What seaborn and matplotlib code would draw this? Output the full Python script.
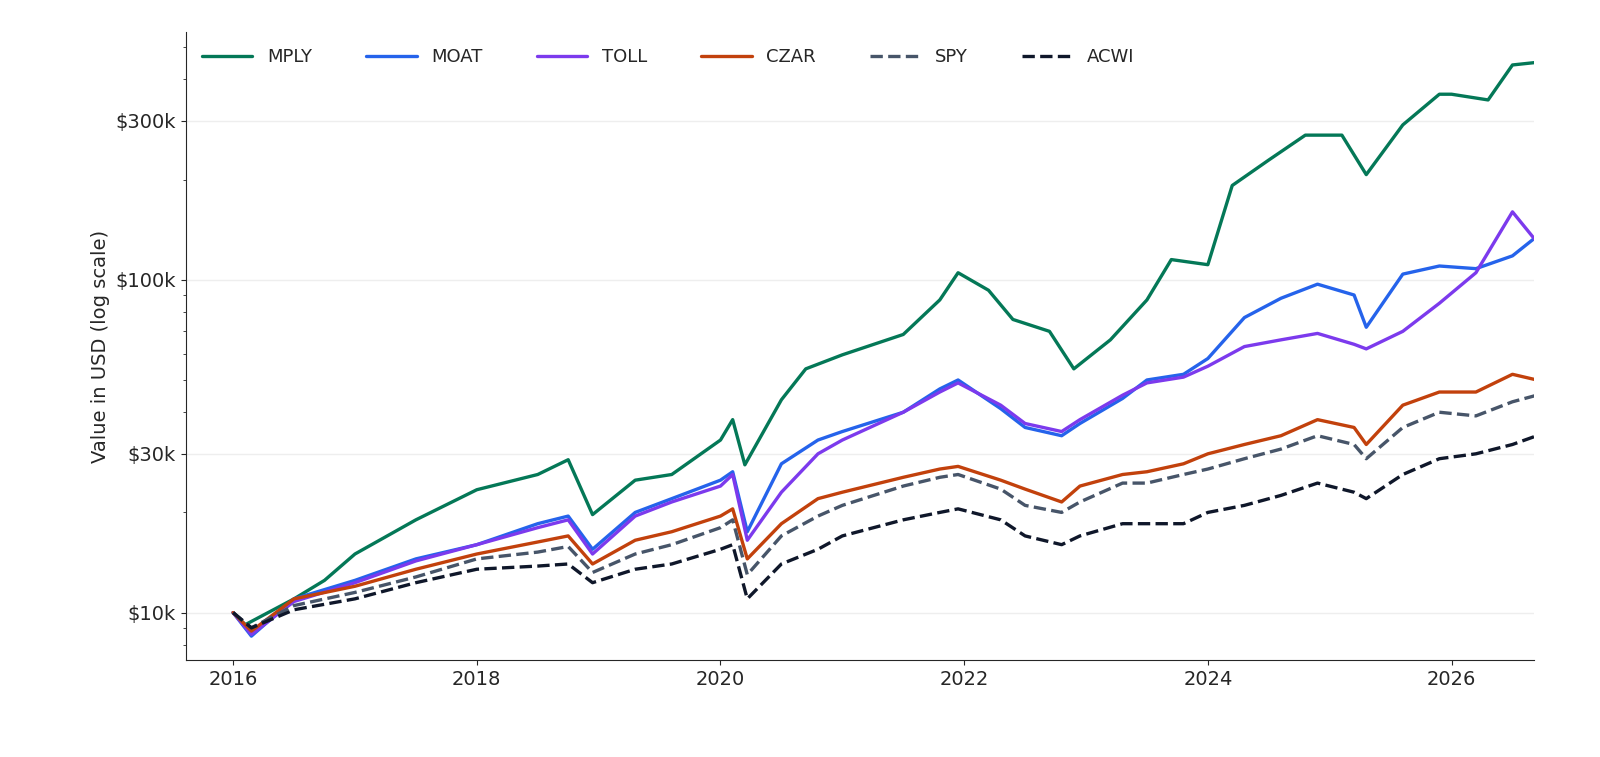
import numpy as np
import pandas as pd
import seaborn as sns
import matplotlib.pyplot as plt
from matplotlib.ticker import FixedLocator, FixedFormatter, NullFormatter, LogLocator

# values in thousands of USD
mply_t = [2016.0, 2016.1, 2016.5, 2016.75, 2017.0, 2017.5, 2018.0, 2018.5, 2018.75, 2018.95, 2019.3, 2019.6,
          2020.0, 2020.1, 2020.2, 2020.5, 2020.7, 2021.0, 2021.5, 2021.8, 2021.95, 2022.2, 2022.4, 2022.7,
          2022.9, 2023.2, 2023.5, 2023.7, 2024.0, 2024.2, 2024.5, 2024.8, 2025.1, 2025.3, 2025.6, 2025.9,
          2026.0, 2026.3, 2026.5, 2026.7]
mply_v = [10, 9.2, 11, 12.5, 15, 19, 23.4, 26, 28.8, 19.7, 25, 26,
          33, 38, 27.8, 43.6, 54, 59.5, 68.5, 87, 105, 93, 76, 70,
          54, 66, 87, 115, 111, 192, 229, 272, 272, 207, 292, 361,
          361, 347, 442, 450]

bench_t = [2016.0, 2016.15, 2016.5, 2017.0, 2017.5, 2018.0, 2018.5, 2018.75, 2018.95, 2019.3, 2019.6,
           2020.0, 2020.1, 2020.22, 2020.5, 2020.8, 2021.0, 2021.5, 2021.8, 2021.95, 2022.3, 2022.5, 2022.8,
           2022.95, 2023.3, 2023.5, 2023.8, 2024.0, 2024.3, 2024.6, 2024.9, 2025.2, 2025.3, 2025.6, 2025.9,
           2026.2, 2026.5, 2026.7]
moat_v = [10, 8.5, 11, 12.5, 14.5, 16, 18.5, 19.5, 15.5, 20, 22,
          25, 26.5, 17.5, 28, 33, 35, 40, 47, 50, 41, 36, 34,
          37, 44, 50, 52, 58, 77, 88, 97, 90, 72, 104, 110,
          108, 118, 135]
toll_v = [10, 8.6, 10.8, 12.3, 14.3, 16, 18, 19, 15, 19.5, 21.5,
          24, 26, 16.5, 23, 30, 33, 40, 46, 49, 42, 37, 35,
          38, 45, 49, 51, 55, 63, 66, 69, 64, 62, 70, 85,
          105, 160, 130]
czar_v = [10, 8.8, 11, 12, 13.5, 15, 16.3, 17, 14, 16.5, 17.5,
          19.5, 20.5, 14.5, 18.5, 22, 23, 25.5, 27, 27.5, 25, 23.5, 21.5,
          24, 26, 26.5, 28, 30, 32, 34, 38, 36, 32, 42, 46,
          46, 52, 50]
spy_v = [10, 9, 10.5, 11.5, 12.8, 14.5, 15.2, 15.8, 13.2, 15, 16,
         18, 19, 13, 17, 19.5, 21, 24, 25.5, 26, 23.5, 21, 20,
         21.5, 24.5, 24.5, 26, 27, 29, 31, 34, 32, 29, 36, 40,
         39, 43, 45]
acwi_v = [10, 9, 10.2, 11, 12.3, 13.5, 13.8, 14, 12.3, 13.5, 14,
          15.5, 16, 11, 14, 15.5, 17, 19, 20, 20.5, 19, 17, 16,
          17, 18.5, 18.5, 18.5, 20, 21, 22.5, 24.5, 23, 22, 26, 29,
          30, 32, 34]

series = [
    ("MPLY", mply_t, mply_v, "#047857", "-"),
    ("MOAT", bench_t, moat_v, "#2563eb", "-"),
    ("TOLL", bench_t, toll_v, "#7c3aed", "-"),
    ("CZAR", bench_t, czar_v, "#c2410c", "-"),
    ("SPY", bench_t, spy_v, "#475569", "--"),
    ("ACWI", bench_t, acwi_v, "#0f172a", "--"),
]

sns.set_style("ticks")
plt.rcParams["font.family"] = ["DejaVu Sans"]

fig = plt.figure(figsize=(16, 7.57), dpi=100)
ax = fig.add_axes([0.116, 0.128, 0.843, 0.83])

for name, t, v, c, ls in series:
    df = pd.DataFrame({"t": t, "v": np.array(v) * 1000})
    sns.lineplot(data=df, x="t", y="v", ax=ax, color=c, linestyle=ls, linewidth=2.4, label=name)

ax.set_yscale("log")
ax.set_ylim(7200, 556000)
ax.set_xlim(2015.61, 2026.68)
ax.yaxis.set_major_locator(FixedLocator([10000, 30000, 100000, 300000]))
ax.yaxis.set_major_formatter(FixedFormatter(["$10k", "$30k", "$100k", "$300k"]))
ax.yaxis.set_minor_locator(LogLocator(base=10, subs=np.arange(1, 10)))
ax.yaxis.set_minor_formatter(NullFormatter())
ax.set_xticks([2016, 2018, 2020, 2022, 2024, 2026])
ax.grid(axis="y", which="major", color="#eeeeee", linewidth=1)
ax.tick_params(labelsize=14)
ax.set_xlabel("")
ax.set_ylabel("Value in USD (log scale)", fontsize=14)
sns.despine(ax=ax)
ax.legend(loc="upper left", ncol=6, frameon=False, fontsize=13, handlelength=2.8,
          columnspacing=3.0, bbox_to_anchor=(0.0, 1.0))

fig.savefig("out.png", dpi=100)
